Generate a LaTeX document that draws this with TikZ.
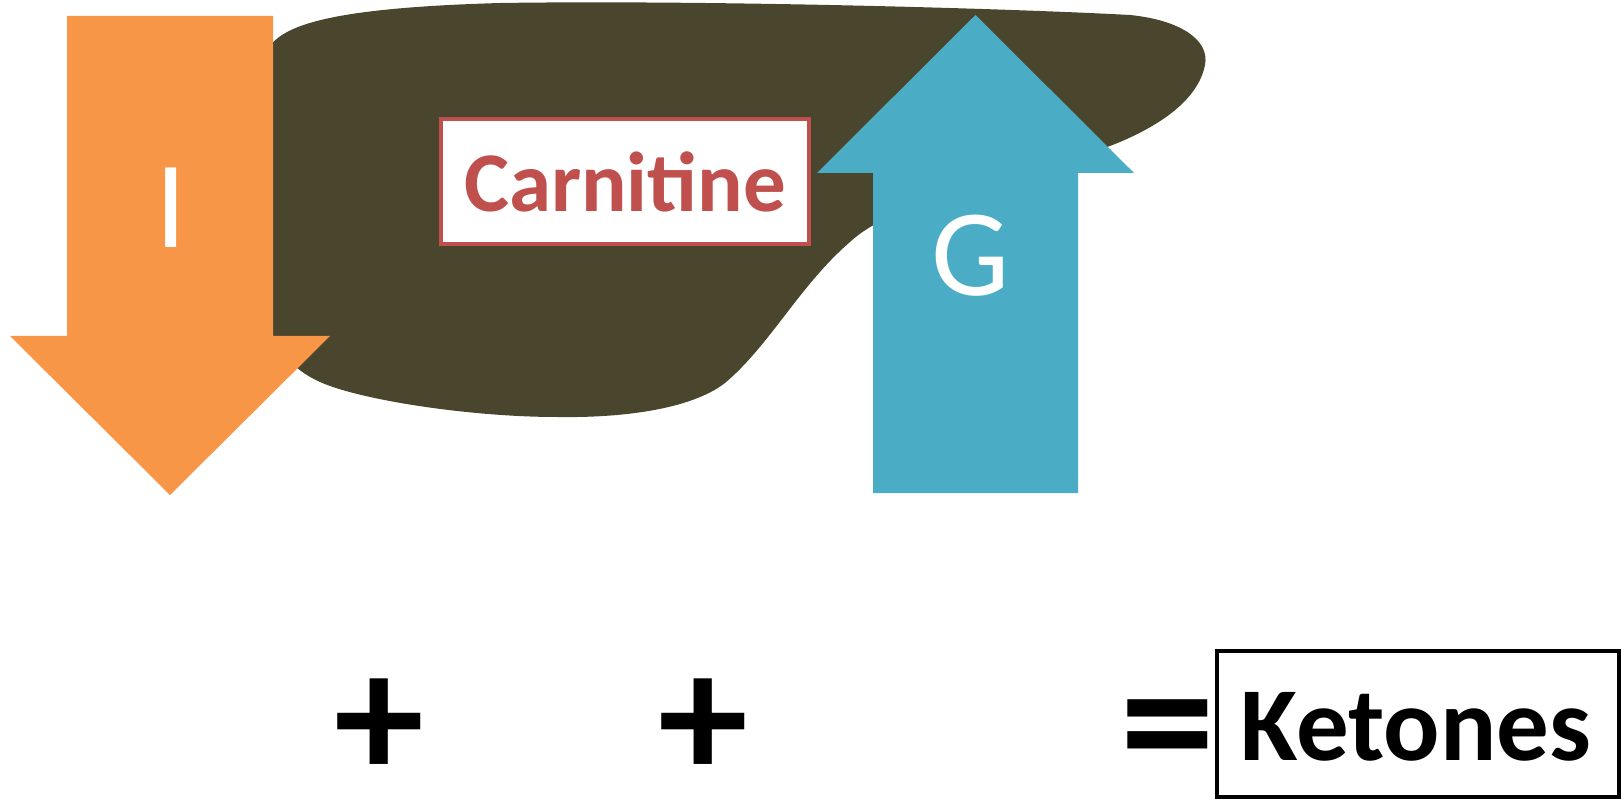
\documentclass[tikz,border=0pt]{standalone}
\usepackage{fontspec}
\setmainfont{Carlito}
\definecolor{blobc}{RGB}{74,69,45}
\definecolor{orangec}{RGB}{247,150,70}
\definecolor{bluec}{RGB}{75,172,198}
\definecolor{redc}{RGB}{192,80,77}
\tikzset{
  arrowtext/.style={text=white, inner sep=0pt, anchor=base, font=\fontsize{124}{130}\selectfont},
  opsym/.style={inner sep=0pt, font=\bfseries\fontsize{180}{190}\selectfont},
  eqsym/.style={inner sep=0pt, font=\bfseries\fontsize{190}{200}\selectfont},
  labelbox/.style={draw=redc, line width=4pt, fill=white, text=redc, inner sep=0pt,
     minimum width=368pt, minimum height=125pt, font=\bfseries\fontsize{85}{90}\selectfont},
  resultbox/.style={draw=black, line width=4pt},
}
\begin{document}
\begin{tikzpicture}[x=1pt,y=-1pt]
\useasboundingbox (0,0) rectangle (1622,799);
% dark blob
\fill[blobc] (265,340) -- (265,60)
  .. controls (268,25) and (330,8) .. (500,3)
  .. controls (700,0) and (1000,8) .. (1130,15)
  .. controls (1180,20) and (1210,40) .. (1205,65)
  .. controls (1198,100) and (1160,125) .. (1120,142)
  .. controls (1040,175) and (900,195) .. (850,242)
  .. controls (800,285) and (770,345) .. (725,383)
  .. controls (690,410) and (620,418) .. (557,417)
  .. controls (470,417) and (360,400) .. (320,382)
  .. controls (305,375) and (295,368) .. (285,355)
  -- cycle;
% orange down arrow
\fill[orangec] (67,16) -- (273,16) -- (273,336) -- (330,336) -- (170,495) -- (10,336) -- (67,336) -- cycle;
% blue up arrow
\fill[bluec] (873,493) -- (1078,493) -- (1078,173) -- (1134,173) -- (975.5,15) -- (817,173) -- (873,173) -- cycle;
\node[arrowtext] (ilabel) at (171,248) {I};
\node[arrowtext] (glabel) at (971,296) {G};
\node[labelbox] (carnitine) at (625,181.5) {Carnitine};
\node[opsym] (plus1) at (379,729) {+};
\node[opsym] (plus2) at (703,729) {+};
\node[eqsym] (equals) at (1168,742) {=};
\draw[resultbox] (1217,651) rectangle (1619,797);
\node[inner sep=0pt, anchor=base, font=\bfseries\fontsize{105}{110}\selectfont] (ketones) at (1416,760) {Ketones};
\end{tikzpicture}
\end{document}
